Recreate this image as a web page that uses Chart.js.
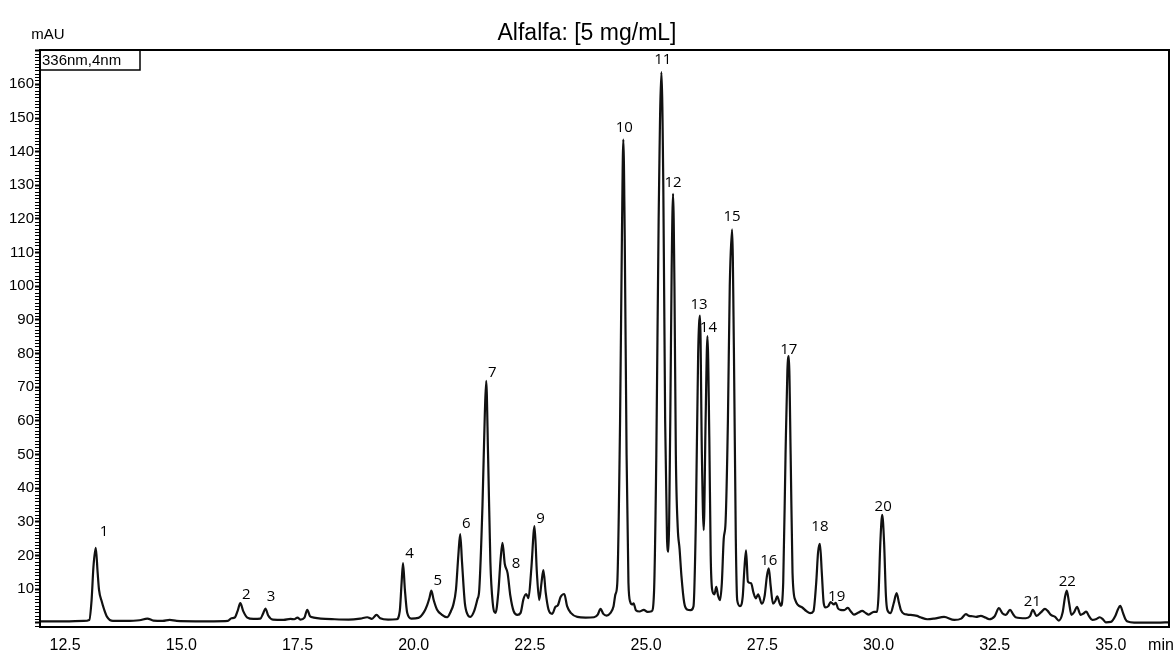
<!DOCTYPE html>
<html>
<head>
<meta charset="utf-8">
<title>Alfalfa: [5 mg/mL]</title>
<script src="https://cdn.jsdelivr.net/npm/chart.js@4/dist/chart.umd.min.js"></script>
<style>
  html, body { margin: 0; padding: 0; background: #fff; }
  #chrom { display: block; }
</style>
</head>
<body>
<canvas id="chrom" width="1174" height="656"></canvas>
<script>
// Chromatogram text
const chartTitle = 'Alfalfa: [5 mg/mL]';
const yUnit = 'mAU';
const xUnit = 'min';
const channelLabel = '336nm,4nm';

// Retention time (min)
const times = [
    11.96, 12.5, 12.9, 13.02, 13.07, 13.11, 13.16, 13.2, 13.23, 13.29, 13.34, 13.4, 13.53, 13.8, 14.1, 14.27, 14.4, 14.6, 14.75, 14.9,
    15.3, 15.7, 16.0, 16.08, 16.15, 16.21, 16.27, 16.33, 16.42, 16.55, 16.7, 16.76, 16.81, 16.87, 16.97, 17.2, 17.35, 17.43, 17.5, 17.56,
    17.65, 17.71, 17.77, 17.85, 18.0, 18.3, 18.6, 18.85, 19.0, 19.1, 19.2, 19.28, 19.45, 19.63, 19.7, 19.74, 19.77, 19.81, 19.86, 19.95,
    20.1, 20.22, 20.29, 20.34, 20.38, 20.43, 20.5, 20.6, 20.72, 20.8, 20.85, 20.91, 20.96, 21.0, 21.04, 21.1, 21.16, 21.22, 21.3, 21.37,
    21.41, 21.48, 21.53, 21.56, 21.6, 21.65, 21.7, 21.76, 21.82, 21.87, 21.91, 21.96, 22.02, 22.08, 22.15, 22.23, 22.3, 22.36, 22.42, 22.47,
    22.53, 22.6, 22.65, 22.7, 22.75, 22.79, 22.84, 22.9, 22.98, 23.05, 23.1, 23.16, 23.24, 23.3, 23.38, 23.52, 23.7, 23.88, 23.96, 24.02,
    24.08, 24.15, 24.23, 24.3, 24.34, 24.38, 24.44, 24.48, 24.51, 24.54, 24.58, 24.62, 24.66, 24.7, 24.73, 24.78, 24.86, 24.95, 25.03, 25.12,
    25.17, 25.22, 25.27, 25.33, 25.37, 25.41, 25.45, 25.48, 25.52, 25.55, 25.58, 25.61, 25.64, 25.68, 25.72, 25.76, 25.82, 25.88, 25.96, 26.02,
    26.07, 26.12, 26.16, 26.2, 26.24, 26.28, 26.32, 26.36, 26.39, 26.42, 26.47, 26.51, 26.55, 26.59, 26.63, 26.67, 26.71, 26.76, 26.8, 26.85,
    26.89, 26.93, 26.96, 27.02, 27.08, 27.11, 27.15, 27.19, 27.26, 27.31, 27.36, 27.41, 27.49, 27.55, 27.6, 27.64, 27.68, 27.73, 27.78, 27.82,
    27.87, 27.9, 27.95, 28.0, 28.04, 28.07, 28.11, 28.15, 28.21, 28.36, 28.45, 28.53, 28.6, 28.66, 28.7, 28.74, 28.78, 28.82, 28.86, 28.92,
    28.97, 29.04, 29.08, 29.13, 29.18, 29.26, 29.34, 29.4, 29.47, 29.56, 29.65, 29.72, 29.79, 29.9, 29.97, 30.0, 30.04, 30.08, 30.12, 30.16,
    30.19, 30.26, 30.33, 30.39, 30.44, 30.48, 30.55, 30.62, 30.83, 30.9, 31.05, 31.2, 31.41, 31.63, 31.78, 31.88, 31.95, 32.02, 32.1, 32.2,
    32.3, 32.38, 32.5, 32.59, 32.67, 32.74, 32.83, 32.9, 32.95, 33.17, 33.26, 33.32, 33.4, 33.5, 33.58, 33.64, 33.71, 33.8, 33.88, 33.96,
    34.01, 34.05, 34.1, 34.15, 34.21, 34.27, 34.35, 34.41, 34.47, 34.53, 34.6, 34.69, 34.76, 34.82, 34.89, 35.0, 35.1, 35.15, 35.2, 35.26,
    35.31, 35.36, 35.5, 35.8, 36.0, 36.25
];

// Absorbance at 336 nm (mAU), one value per time above
const absorbance = [
    0.5, 0.5, 0.6, 0.9, 6.8, 16.7, 22.3, 15, 9.8, 6.3, 4, 1.9, 0.6, 0.6, 0.8, 1.3, 0.7, 0.6, 0.9, 0.6,
    0.5, 0.5, 0.6, 1.4, 1.6, 3.5, 5.9, 3.6, 1.6, 1.2, 1.3, 2.8, 4.3, 2.2, 1.0, 0.9, 1.2, 1.1, 1.6, 1.0,
    1.6, 3.9, 2.0, 1.6, 1.3, 1.1, 1.0, 1.3, 1.7, 1.2, 2.4, 1.4, 1.0, 1.1, 3.5, 12, 17.8, 10, 3, 1.3,
    1.5, 3.2, 5.3, 7.5, 9.6, 6.8, 4, 2.5, 1.7, 3.5, 5.3, 10, 20, 26.4, 18, 6, 2.5, 1.8, 3.5, 7,
    9.8, 35, 62, 71.9, 50, 18, 6, 3, 9, 19, 23.8, 17.5, 14.8, 8, 3.5, 2.4, 3, 7, 8.6, 7.4,
    16, 28.8, 15, 6.8, 12, 15.7, 9, 4, 2.7, 4.8, 5.2, 7.7, 8.6, 5, 3, 1.8, 1.6, 1.7, 2.5, 4.2,
    2.7, 2.2, 2.9, 5, 8.5, 11.8, 60, 115, 143.6, 115, 50, 12, 6.2, 5.5, 5.8, 3.8, 3.4, 3.9, 3.3, 3.5,
    9, 50, 120, 163.6, 130, 60, 25, 21.2, 60, 105, 127.5, 100, 50, 28.5, 22, 14, 6, 4, 3.8, 5,
    30, 80, 91.3, 50, 27.6, 60, 85.2, 55, 20, 10, 8.5, 10.7, 8, 6.8, 12, 25, 30, 60, 100, 116.9,
    80, 25, 6.8, 5, 8, 15, 21.6, 12.3, 11.8, 9, 7.3, 8.5, 5.7, 8, 14, 16.2, 11, 5.7, 6.5, 7.9,
    6, 5.1, 12, 50, 75, 79.3, 50, 15, 6.8, 4.6, 3.5, 2.9, 3.5, 12, 21, 23.5, 15, 6, 4.6, 5,
    6.2, 5.5, 6.0, 4.3, 3.9, 3.8, 4.5, 3.5, 2.5, 3, 3.6, 3, 2.5, 3.3, 3.3, 8, 24, 32.1, 24, 8,
    3.9, 2.9, 6, 8.9, 6, 3.9, 2.7, 2.5, 2.1, 1.7, 1.1, 1.3, 1.8, 0.9, 1.3, 2.6, 2.1, 2.0, 1.8, 2.1,
    1.6, 1.1, 2.0, 4.4, 2.8, 2.4, 3.9, 2.5, 1.7, 1.4, 2, 3.9, 2.1, 3.2, 4.2, 3.6, 2.4, 1.8, 0.7, 3,
    7.5, 9.6, 6, 2.4, 3.2, 4.8, 2.4, 2.8, 3.4, 2, 0.9, 1.2, 1.7, 1.2, 0.2, 0.3, 2.2, 4, 5.1, 3,
    1.2, 0.4, 0.1, 0.1, 0.1, 0.2
];

// Peak numbers and where their labels sit (time, mAU)
const peakNames = ['1', '2', '3', '4', '5', '6', '7', '8', '9', '10', '11',
    '12', '13', '14', '15', '16', '17', '18', '19', '20', '21', '22'];
const peakLabelTimes = [13.34, 16.40, 16.93, 19.91, 20.52, 21.13, 21.69, 22.20, 22.73, 24.53, 25.36,
    25.58, 26.14, 26.34, 26.85, 27.64, 28.07, 28.74, 29.10, 30.10, 33.31, 34.06];
const peakLabelLevels = [27.1, 8.3, 7.7, 20.7, 12.6, 29.4, 74.2, 17.5, 31.1, 147.2, 167.3,
    130.8, 94.4, 87.7, 120.8, 18.5, 81.2, 28.5, 7.8, 34.4, 6.3, 12.3];

// Axis ranges and tick labels
const xMin = 11.96;
const xMax = 36.25;
const yMin = -1.2;
const yMax = 170.2;
const xTickLabels = ['12.5', '15.0', '17.5', '20.0', '22.5', '25.0', '27.5', '30.0', '32.5', '35.0'];
const yTickLabels = ['10', '20', '30', '40', '50', '60', '70', '80', '90', '100', '110', '120', '130', '140', '150', '160'];

const sans = '"Liberation Sans", Arial, sans-serif';

// Frame, channel box, title, units and peak numbers
const chromDecor = {
    id: 'chromDecor',
    afterDraw(chart) {
        const { ctx, chartArea: a, scales: { x, y } } = chart;
        ctx.save();
        ctx.strokeStyle = '#000';
        ctx.lineWidth = 2;
        ctx.strokeRect(a.left, a.top, a.right - a.left, a.bottom - a.top);

        // wavelength box in the top-left corner
        ctx.lineWidth = 1.5;
        ctx.strokeRect(a.left, a.top, 100, 20);
        ctx.fillStyle = '#000';
        ctx.textBaseline = 'middle';
        ctx.textAlign = 'left';
        ctx.font = '15px ' + sans;
        ctx.fillText(channelLabel, a.left + 2, a.top + 11);

        // title and units
        ctx.textAlign = 'center';
        ctx.font = '23px ' + sans;
        ctx.fillText(chartTitle, chart.width / 2, 34);
        ctx.font = '15px ' + sans;
        ctx.fillText(yUnit, 48, 35);
        ctx.font = '16px ' + sans;
        ctx.fillText(xUnit, a.right - 8, 646);

        // peak numbers
        ctx.font = '15px "Open Sans", "Noto Sans", sans-serif';
        peakNames.forEach((name, i) => {
            ctx.fillText(name, x.getPixelForValue(peakLabelTimes[i]), y.getPixelForValue(peakLabelLevels[i]));
        });
        ctx.restore();
    }
};

const points = times.map((t, i) => ({ x: t, y: absorbance[i] }));

new Chart(document.getElementById('chrom'), {
    type: 'line',
    data: {
        datasets: [{
            label: channelLabel,
            data: points,
            borderColor: '#111',
            borderWidth: 2.2,
            pointRadius: 0,
            fill: false,
            cubicInterpolationMode: 'monotone'
        }]
    },
    options: {
        responsive: false,
        animation: false,
        devicePixelRatio: 1,
        layout: { padding: { top: 50, right: 5, left: 0, bottom: 0 } },
        plugins: {
            legend: { display: false },
            tooltip: { enabled: false },
            title: { display: false }
        },
        scales: {
            x: {
                type: 'linear',
                min: xMin,
                max: xMax,
                afterFit: s => { s.height = 29; },
                grid: { drawOnChartArea: false, drawTicks: false },
                border: { display: false },
                ticks: {
                    stepSize: 2.5,
                    includeBounds: false,
                    autoSkip: false,
                    maxRotation: 0,
                    padding: 9,
                    color: '#000',
                    font: { family: sans, size: 16 },
                    callback: v => {
                        const s = v.toFixed(1);
                        return xTickLabels.includes(s) ? s : '';
                    }
                }
            },
            y: {
                min: yMin,
                max: yMax,
                afterFit: s => { s.width = 40; },
                grid: {
                    drawOnChartArea: false,
                    drawTicks: true,
                    tickLength: 5,
                    tickColor: '#000',
                    tickWidth: c => (c.tick && c.tick.value % 10 === 0 ? 2 : 1)
                },
                border: { display: false },
                ticks: {
                    stepSize: 1,
                    includeBounds: false,
                    autoSkip: false,
                    maxTicksLimit: 1000,
                    padding: 1,
                    color: '#000',
                    font: { family: sans, size: 15 },
                    callback: v => {
                        const s = String(Math.round(v));
                        return (v % 10 === 0 && yTickLabels.includes(s)) ? s : '';
                    }
                }
            }
        }
    },
    plugins: [chromDecor]
});
</script>
</body>
</html>
